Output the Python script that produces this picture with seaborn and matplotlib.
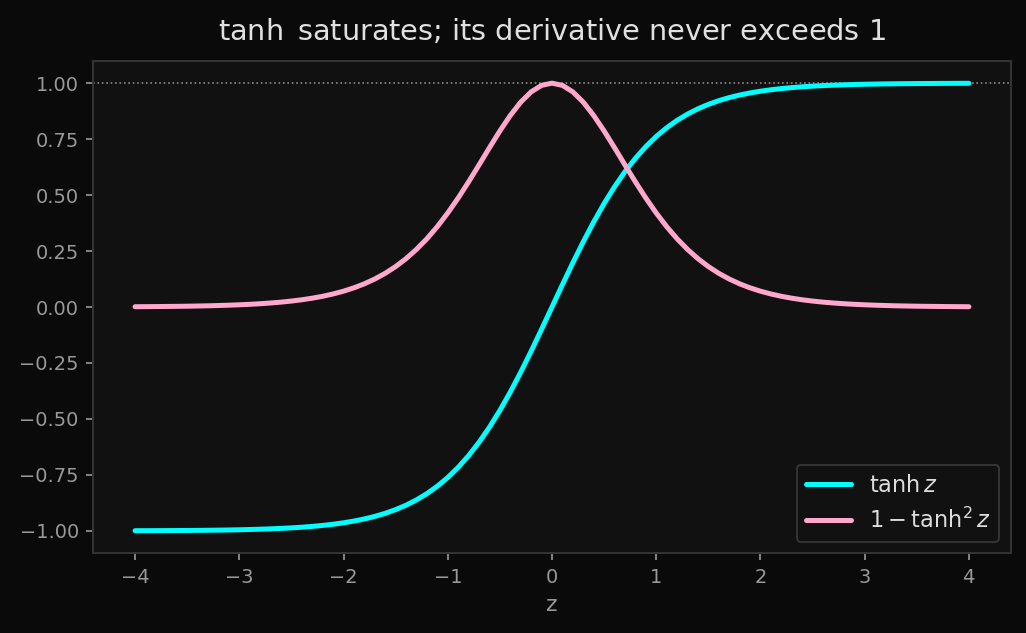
import numpy as np
import pandas as pd
import matplotlib
matplotlib.use("Agg")
import matplotlib.pyplot as plt
import seaborn as sns

# values, z from -4 to 4 in steps of 0.1
z = np.linspace(-4, 4, 81)

tanh_vals = [
    -0.9993, -0.9992, -0.9990, -0.9988, -0.9985, -0.9982, -0.9978, -0.9973, -0.9967, -0.9960,
    -0.9951, -0.9940, -0.9926, -0.9910, -0.9890, -0.9866, -0.9837, -0.9801, -0.9757, -0.9705,
    -0.9640, -0.9562, -0.9468, -0.9354, -0.9217, -0.9051, -0.8854, -0.8617, -0.8337, -0.8005,
    -0.7616, -0.7163, -0.6640, -0.6044, -0.5370, -0.4621, -0.3799, -0.2913, -0.1974, -0.0997,
    0.0000,
    0.0997, 0.1974, 0.2913, 0.3799, 0.4621, 0.5370, 0.6044, 0.6640, 0.7163, 0.7616,
    0.8005, 0.8337, 0.8617, 0.8854, 0.9051, 0.9217, 0.9354, 0.9468, 0.9562, 0.9640,
    0.9705, 0.9757, 0.9801, 0.9837, 0.9866, 0.9890, 0.9910, 0.9926, 0.9940, 0.9951,
    0.9960, 0.9967, 0.9973, 0.9978, 0.9982, 0.9985, 0.9988, 0.9990, 0.9992, 0.9993,
]

deriv_vals = [
    0.0013, 0.0016, 0.0020, 0.0025, 0.0030, 0.0036, 0.0045, 0.0054, 0.0066, 0.0081,
    0.0099, 0.0120, 0.0147, 0.0179, 0.0218, 0.0266, 0.0323, 0.0394, 0.0479, 0.0582,
    0.0707, 0.0857, 0.1036, 0.1251, 0.1505, 0.1807, 0.2161, 0.2575, 0.3050, 0.3592,
    0.4200, 0.4869, 0.5591, 0.6347, 0.7116, 0.7864, 0.8556, 0.9151, 0.9610, 0.9901,
    1.0000,
    0.9901, 0.9610, 0.9151, 0.8556, 0.7864, 0.7116, 0.6347, 0.5591, 0.4869, 0.4200,
    0.3592, 0.3050, 0.2575, 0.2161, 0.1807, 0.1505, 0.1251, 0.1036, 0.0857, 0.0707,
    0.0582, 0.0479, 0.0394, 0.0323, 0.0266, 0.0218, 0.0179, 0.0147, 0.0120, 0.0099,
    0.0081, 0.0066, 0.0054, 0.0045, 0.0036, 0.0030, 0.0025, 0.0020, 0.0016, 0.0013,
]

labels = [r"$\tanh z$", r"$1 - \tanh^2 z$"]
colors = ["#00ffff", "#ffa8cc"]

df = pd.concat([
    pd.DataFrame({"z": z, "value": tanh_vals, "curve": labels[0]}),
    pd.DataFrame({"z": z, "value": deriv_vals, "curve": labels[1]}),
])

sns.set_theme(style="dark")
plt.rcParams["font.family"] = ["DejaVu Sans"]

fig, ax = plt.subplots(figsize=(6.84, 4.22), dpi=150)
fig.patch.set_facecolor("#0a0a0a")
ax.set_facecolor("#111111")

sns.lineplot(data=df, x="z", y="value", hue="curve", palette=colors,
             linewidth=2.4, ax=ax)
ax.axhline(1.0, color="#888888", linestyle=":", linewidth=0.8, zorder=0)

ax.set_xticks([-4, -3, -2, -1, 0, 1, 2, 3, 4])
ax.set_yticks([-1.0, -0.75, -0.5, -0.25, 0.0, 0.25, 0.5, 0.75, 1.0])
ax.set_yticklabels(["−1.00", "−0.75", "−0.50", "−0.25", "0.00", "0.25", "0.50", "0.75", "1.00"])
ax.set_ylim(-1.1, 1.1)
ax.set_xlim(-4.4, 4.4)
ax.tick_params(colors="#999999", labelsize=9.3, length=3.5, width=0.8, bottom=True, left=True)
for s in ax.spines.values():
    s.set_color("#333333")
    s.set_linewidth(1.0)
ax.grid(False)

ax.set_xlabel("z", color="#999999", fontsize=10.5)
ax.set_ylabel("")
ax.set_title(r"$\tanh$ saturates; its derivative never exceeds 1", color="#e0e0e0",
             fontsize=13.8, pad=10)

leg = ax.legend(loc="lower right", fontsize=10.8, facecolor="#111111", edgecolor="#333333",
                framealpha=1.0)
for t in leg.get_texts():
    t.set_color("#dddddd")

plt.subplots_adjust(left=0.091, right=0.985, top=0.904, bottom=0.126)
plt.savefig("out.png", dpi=150, facecolor=fig.get_facecolor())
